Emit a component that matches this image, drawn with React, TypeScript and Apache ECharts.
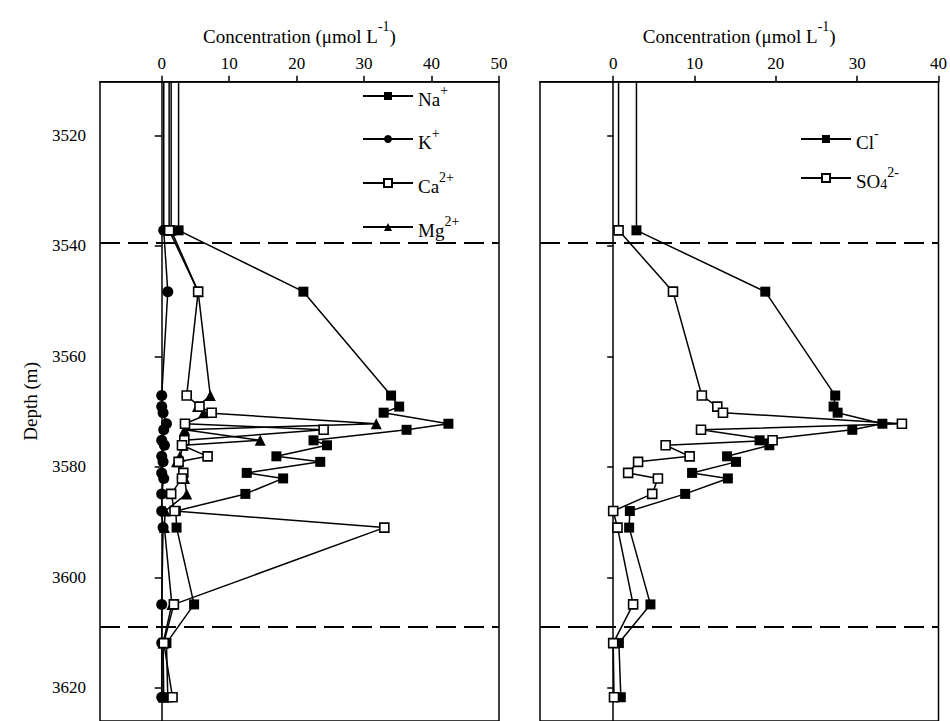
import React, { useEffect, useRef } from "react";
import * as echarts from "echarts";

// Sample depths (m)
const depths = [3537.2, 3548.3, 3567.1, 3569.1, 3570.2, 3572.2, 3573.3, 3575.2, 3576.1, 3578.1, 3579.1, 3581.1, 3582.1, 3584.9, 3588.0, 3591.0, 3604.9, 3611.9, 3621.7];

// Cations (µmol/L)
const naValues = [2.5, 21.0, 34.0, 35.2, 32.9, 42.5, 36.3, 22.5, 24.5, 17.0, 23.5, 12.6, 18.0, 12.4, 2.1, 2.2, 4.8, 0.7, 0.9];
const kValues = [0.3, 0.9, 0, 0, 0.2, 0.7, 0.3, 0, 0.4, 0, 0.2, 0, 0.3, 0, 0, 0.2, 0, 0, 0];
const caValues = [1.1, 5.4, 3.7, 5.6, 7.4, 3.45, 24.0, 3.35, 3.0, 6.8, 2.5, 3.2, 3.0, 1.4, 1.9, 33.0, 1.8, 0.3, 1.6];
const mgValues = [1.4, 5.4, 7.2, 5.3, 6.2, 31.8, 3.4, 14.6, 3.2, 2.7, 2.2, 3.0, 3.4, 3.7, 0.5, 0.4, 1.5, 0.2, 0.3];

// Anions (µmol/L)
const clValues = [2.86, 18.7, 27.3, 27.1, 27.6, 33.1, 29.4, 18.0, 19.2, 14.0, 15.1, 9.7, 14.1, 8.85, 2.05, 1.96, 4.58, 0.7, 0.94];
const so4Values = [0.66, 7.35, 10.9, 12.8, 13.5, 35.5, 10.8, 19.6, 6.45, 9.4, 3.06, 1.84, 5.5, 4.8, 0, 0.53, 2.45, 0, 0.1];

const surfaceDepth = 3500;
const boundaryDepths = [3539.4, 3609];
const leftTicks = [0, 10, 20, 30, 40, 50];
const rightTicks = [0, 10, 20, 30, 40];
const depthTicks = [3520, 3540, 3560, 3580, 3600, 3620];

const FONT = "'Liberation Serif', 'Times New Roman', serif";

const legendLabels: Record<string, string> = {
  "Na+": "{b|Na}{s|+}",
  "K+": "{b|K}{s|+}",
  "Ca2+": "{b|Ca}{s|2+}",
  "Mg2+": "{b|Mg}{s|2+}",
  "Cl-": "{b|Cl}{s|-}",
  "SO42-": "{b|SO}{u|4}{s|2-}",
};

const rich = {
  b: { fontFamily: FONT, fontSize: 19, color: "#000", verticalAlign: "bottom", lineHeight: 26 },
  s: { fontFamily: FONT, fontSize: 14, color: "#000", verticalAlign: "top", lineHeight: 26 },
  u: { fontFamily: FONT, fontSize: 14, color: "#000", verticalAlign: "bottom", lineHeight: 24 },
};

function makeSeries(name: string, values: number[], idx: number, symbol: string, filled: boolean, size: number) {
  return {
    type: "line",
    name,
    xAxisIndex: idx,
    yAxisIndex: idx,
    data: [
      { value: [values[0], surfaceDepth], symbol: "none" },
      ...depths.map((d, i) => [values[i], d]),
    ],
    symbol,
    symbolSize: size,
    clip: true,
    lineStyle: { color: "#000", width: 1.5 },
    itemStyle: {
      color: filled ? "#000" : "#fff",
      borderColor: "#000",
      borderWidth: filled ? 0 : 1.6,
    },
    emphasis: { disabled: true },
    z: filled ? 3 : 4,
  };
}

const dashedMarkLine = {
  symbol: ["none", "none"],
  silent: true,
  label: { show: false },
  lineStyle: { type: [20, 8], width: 2, color: "#000" },
  data: boundaryDepths.map((d) => ({ yAxis: d })),
};

function legendItem(name: string, left: number, centerY: number) {
  return {
    data: [name],
    left,
    top: centerY - 13,
    orient: "vertical",
    itemWidth: 50,
    itemHeight: 10,
    padding: 0,
    selectedMode: false,
    formatter: (n: string) => legendLabels[n],
    textStyle: { fontFamily: FONT, fontSize: 19, color: "#000", rich },
  };
}

const axisNameRich = {
  b: { fontFamily: FONT, fontSize: 19, color: "#000", verticalAlign: "bottom", lineHeight: 26 },
  s: { fontFamily: FONT, fontSize: 14, color: "#000", verticalAlign: "top", lineHeight: 26 },
};

const GRID_TOP = 81.7;
const Y_MIN = 3510.3;
const Y_MAX = 3626;
const PX_PER_M = 5.62;

export default function App() {
  const ref = useRef<HTMLDivElement>(null);
  useEffect(() => {
    if (!ref.current) return;
    const chart = echarts.init(ref.current, undefined, { renderer: "svg" });
    const gridHeight = (Y_MAX - Y_MIN) * PX_PER_M;
    const axisLineStyle = { color: "#000", width: 1.5 };
    const labelStyle = { fontFamily: FONT, fontSize: 17, color: "#000" };

    const xAxisCommon = (gridIndex: number, min: number, max: number, ticks: number[]) => ({
      gridIndex,
      type: "value",
      position: "top",
      min,
      max,
      name: "{b|Concentration (μmol L}{s|-1}{b|)}",
      nameLocation: "middle",
      nameGap: 36,
      nameTextStyle: { color: "#000", rich: axisNameRich },
      axisLine: { show: true, lineStyle: axisLineStyle },
      axisTick: { show: true, inside: false, length: 6, customValues: ticks, lineStyle: axisLineStyle },
      axisLabel: { show: true, customValues: ticks, margin: 10, formatter: (v: number) => String(v), ...labelStyle },
      splitLine: { show: false },
    });

    const option = {
      animation: false,
      backgroundColor: "#fff",
      grid: [
        { left: 100, top: GRID_TOP, width: 399, height: gridHeight, show: true, borderColor: "#000", borderWidth: 1.5, backgroundColor: "transparent" },
        { left: 540, top: GRID_TOP, width: 400, height: gridHeight, show: true, borderColor: "#000", borderWidth: 1.5, backgroundColor: "transparent" },
      ],
      xAxis: [
        xAxisCommon(0, -9.15, 50, leftTicks),
        xAxisCommon(1, -9, 40, rightTicks),
      ],
      yAxis: [
        {
          gridIndex: 0,
          type: "value",
          inverse: true,
          min: Y_MIN,
          max: Y_MAX,
          name: "Depth (m)",
          nameLocation: "middle",
          nameGap: 60,
          nameTextStyle: { fontFamily: FONT, fontSize: 19, color: "#000" },
          axisLine: { show: true, lineStyle: axisLineStyle },
          axisTick: { show: true, inside: false, length: 7, customValues: depthTicks, lineStyle: axisLineStyle },
          axisLabel: { show: true, customValues: depthTicks, margin: 14, formatter: (v: number) => String(v), ...labelStyle },
          splitLine: { show: false },
        },
        {
          gridIndex: 1,
          type: "value",
          inverse: true,
          min: Y_MIN,
          max: Y_MAX,
          axisLine: { show: true, lineStyle: axisLineStyle },
          axisTick: { show: true, inside: false, length: 6, customValues: depthTicks, lineStyle: axisLineStyle },
          axisLabel: { show: false },
          splitLine: { show: false },
        },
      ],
      legend: [
        legendItem("Na+", 362, 96),
        legendItem("K+", 362, 139),
        legendItem("Ca2+", 362, 183),
        legendItem("Mg2+", 362, 227),
        legendItem("Cl-", 800, 139),
        legendItem("SO42-", 800, 178),
      ],
      series: [
        { ...makeSeries("Na+", naValues, 0, "rect", true, 10), markLine: dashedMarkLine },
        makeSeries("K+", kValues, 0, "circle", true, 11),
        makeSeries("Ca2+", caValues, 0, "rect", false, 9),
        makeSeries("Mg2+", mgValues, 0, "triangle", true, 11),
        { ...makeSeries("Cl-", clValues, 1, "rect", true, 10), markLine: dashedMarkLine },
        makeSeries("SO42-", so4Values, 1, "rect", false, 9),
      ],
    };
    chart.setOption(option as any);
    return () => chart.dispose();
  }, []);

  return (
    <div
      ref={ref}
      style={{ position: "fixed", left: 0, top: 0, width: 950, height: 721, overflow: "hidden", background: "#fff" }}
    />
  );
}
